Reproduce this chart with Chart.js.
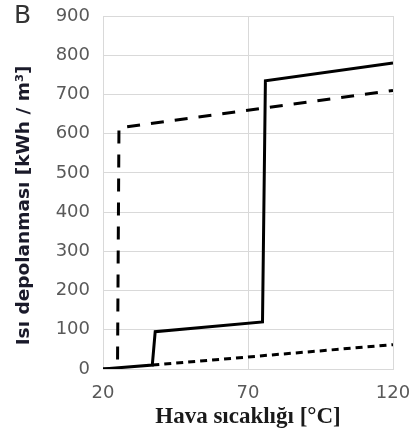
<!DOCTYPE html>
<html>
<head>
<meta charset="utf-8">
<script src="https://cdn.jsdelivr.net/npm/chart.js@4"></script>
<style>
  body { margin: 0; background: #fff; }
  canvas { display: block; }
</style>
</head>
<body>
<canvas id="heatChart" width="418" height="436"></canvas>
<script>
'use strict'

// air temperature (°C) / heat storage (kWh/m3) for each curve
var solidX = [20, 37, 38, 75, 76, 120];
var solidY = [0, 10, 95, 120, 735, 780];

var longDashX = [20, 25, 25.5, 120];
var longDashY = [0, 0, 615, 710];

var shortDashX = [37, 120];
var shortDashY = [10, 62];

var xTicks = [20, 70, 120];
var yTicks = [0, 100, 200, 300, 400, 500, 600, 700, 800, 900];

function toPoints(xs, ys) {
    return xs.map(function (x, i) { return { x: x, y: ys[i] }; });
}

// panel letter in the top-left corner
var panelLetter = {
    id: 'panelLetter',
    afterDraw: function (chart) {
        var c = chart.ctx;
        c.save();
        c.fillStyle = '#333';
        c.font = '25px "DejaVu Sans"';
        c.textBaseline = 'alphabetic';
        c.fillText('B', 14, 23);
        c.restore();
    }
};

var ctx = document.getElementById('heatChart').getContext('2d');
var heatChart = new Chart(ctx, {
    type: 'scatter',
    data: {
        datasets: [{
            data: toPoints(shortDashX, shortDashY),
            showLine: true,
            borderColor: '#000',
            borderWidth: 3,
            borderDash: [7, 5],
            pointRadius: 0
        }, {
            data: toPoints(longDashX, longDashY),
            showLine: true,
            borderColor: '#000',
            borderWidth: 3,
            borderDash: [13, 11],
            pointRadius: 0
        }, {
            data: toPoints(solidX, solidY),
            showLine: true,
            borderColor: '#000',
            borderWidth: 3,
            pointRadius: 0
        }]
    },
    options: {
        responsive: false,
        animation: false,
        layout: {
            padding: { left: 9, right: 25, top: 16, bottom: 1 }
        },
        plugins: {
            legend: { display: false },
            tooltip: { enabled: false }
        },
        scales: {
            x: {
                type: 'linear',
                min: 20,
                max: 120,
                afterBuildTicks: function (scale) {
                    scale.ticks = xTicks.map(function (v) { return { value: v }; });
                },
                afterFit: function (scale) {
                    scale.height = 66;
                    scale.paddingLeft = 0;
                    scale.paddingRight = 0;
                },
                grid: { color: '#d9d9d9', drawTicks: false, lineWidth: 1 },
                border: { color: '#d9d9d9' },
                ticks: {
                    padding: 14,
                    color: '#595959',
                    font: { family: 'DejaVu Sans', size: 18 }
                },
                title: {
                    display: true,
                    text: 'Hava sıcaklığı [°C]',
                    color: '#1a1a1a',
                    font: { family: 'Liberation Serif', size: 23, weight: 'bold' }
                }
            },
            y: {
                min: 0,
                max: 900,
                afterBuildTicks: function (scale) {
                    scale.ticks = yTicks.map(function (v) { return { value: v }; });
                },
                afterFit: function (scale) {
                    scale.width = 94;
                    scale.paddingTop = 0;
                    scale.paddingBottom = 0;
                },
                grid: { color: '#d9d9d9', drawTicks: false, lineWidth: 1 },
                border: { color: '#d9d9d9' },
                ticks: {
                    padding: 13,
                    color: '#595959',
                    font: { family: 'DejaVu Sans', size: 18 }
                },
                title: {
                    display: true,
                    text: 'Isı depolanması [kWh / m³]\u00a0\u00a0\u00a0\u00a0',
                    color: '#1a1a2a',
                    font: { family: 'DejaVu Sans', size: 18.5, weight: 'bold' }
                }
            }
        }
    },
    plugins: [panelLetter]
});
</script>
</body>
</html>
